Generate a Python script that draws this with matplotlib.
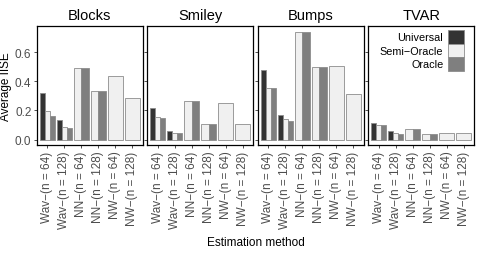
import numpy as np
import matplotlib
matplotlib.use('Agg')
import matplotlib.pyplot as plt
from matplotlib.patches import Patch

plt.rcParams['font.family'] = ['Liberation Sans', 'DejaVu Sans']

signals = ["Blocks", "Smiley", "Bumps", "TVAR"]
methods = ["Wav\u2212(n = 64)", "Wav\u2212(n = 128)", "NN\u2212(n = 64)",
           "NN\u2212(n = 128)", "NW\u2212(n = 64)", "NW\u2212(n = 128)"]
estimators = ["Universal", "Semi\u2212Oracle", "Oracle"]
nan = np.nan

# average IISE per method: universal, semi-oracle, oracle
blocks_univ = [0.323, 0.138, nan, nan, nan, nan]
blocks_semi = [0.199, 0.090, 0.493, 0.337, 0.438, 0.285]
blocks_orac = [0.160, 0.081, 0.493, 0.337, nan, nan]

smiley_univ = [0.215, 0.056, nan, nan, nan, nan]
smiley_semi = [0.156, 0.043, 0.262, 0.108, 0.249, 0.104]
smiley_orac = [0.149, 0.045, 0.262, 0.108, nan, nan]

bumps_univ = [0.479, 0.167, nan, nan, nan, nan]
bumps_semi = [0.357, 0.140, 0.741, 0.497, 0.504, 0.316]
bumps_orac = [0.353, 0.127, 0.741, 0.497, nan, nan]

tvar_univ = [0.113, 0.059, nan, nan, nan, nan]
tvar_semi = [0.102, 0.045, 0.072, 0.036, 0.043, 0.045]
tvar_orac = [0.097, 0.041, 0.072, 0.036, nan, nan]

data = {
    "Blocks": [blocks_univ, blocks_semi, blocks_orac],
    "Smiley": [smiley_univ, smiley_semi, smiley_orac],
    "Bumps": [bumps_univ, bumps_semi, bumps_orac],
    "TVAR": [tvar_univ, tvar_semi, tvar_orac],
}
fills = ["#333333", "#f0f0f0", "#7f7f7f"]
edge = "#8c8c8c"

fig, axes = plt.subplots(1, 4, figsize=(4.8, 2.55), dpi=100, sharey=True)
fig.subplots_adjust(left=37/480, right=474/480, bottom=1-146/255, top=1-27/255, wspace=0.047)

for ax, sig in zip(axes, signals):
    series = data[sig]
    for j in range(len(methods)):
        present = [k for k in range(3) if not np.isnan(series[k][j])]
        w = 0.9 / len(present)
        for i, k in enumerate(present):
            xc = j - 0.45 + (i + 0.5) * w
            ax.bar(xc, series[k][j], width=w, color=fills[k], edgecolor=edge, linewidth=0.6)
    ax.set_xlim(-0.6, 5.6)
    ax.set_ylim(-0.037, 0.78)
    ax.set_xticks(range(len(methods)))
    ax.set_xticklabels(methods, rotation=90, fontsize=8.5, color="#4d4d4d")
    ax.set_title(sig, fontsize=10.5, pad=5)
    ax.tick_params(axis='both', length=2.5, width=0.6, color="#333333", pad=1.5)
    for s in ax.spines.values():
        s.set_color("black")
        s.set_linewidth(0.9)

axes[0].set_yticks([0.0, 0.2, 0.4, 0.6])
axes[0].set_yticklabels(["0.0", "0.2", "0.4", "0.6"], fontsize=8.5, color="#4d4d4d")
axes[0].set_ylabel("Average IISE", fontsize=8.5, labelpad=2)
fig.text((37 + 474) / 2 / 480, 1 - 243/255, "Estimation method", ha="center", va="center", fontsize=8.5)

handles = [Patch(facecolor=fills[k], edgecolor=edge, linewidth=0.6) for k in range(3)]
leg = axes[3].legend(handles, estimators, loc="upper right", frameon=False, markerfirst=False,
                     fontsize=7.8, handlelength=1.5, handleheight=1.55, labelspacing=0,
                     handletextpad=0.4, borderaxespad=0, borderpad=0,
                     bbox_to_anchor=((464 - 369) / 105, 1 - 4 / 119))

fig.savefig("out.png", dpi=100)
